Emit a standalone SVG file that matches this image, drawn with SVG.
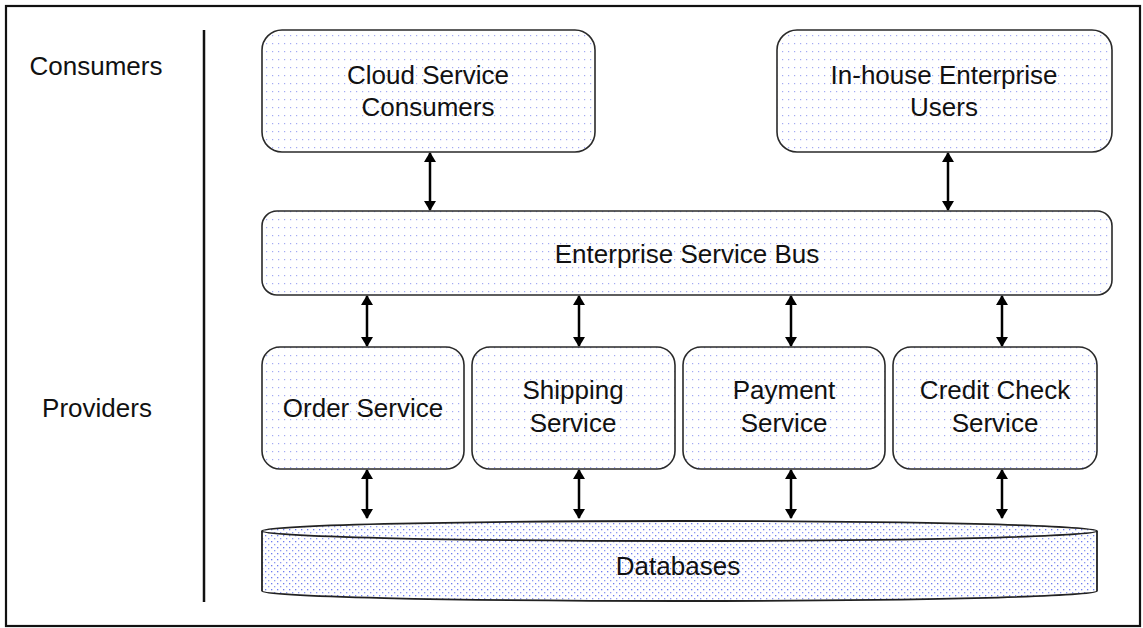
<svg xmlns="http://www.w3.org/2000/svg" width="1143" height="628" viewBox="0 0 1143 628">
<style>
.box{fill:url(#dots);stroke:#2a2a2a;stroke-width:1.6}
.txt{font-family:"Liberation Sans",Arial,sans-serif;font-size:26px;fill:#111;text-anchor:middle}
.conn{stroke:#000;stroke-width:2.5;fill:none;marker-start:url(#ah);marker-end:url(#ah)}
</style>
<defs>
<pattern id="dots" width="6" height="8" patternUnits="userSpaceOnUse">
<rect width="6" height="8" fill="#fff"/>
<rect x="2" y="3" width="1.2" height="1.2" fill="#a3aaf4"/>
</pattern>
<pattern id="dbdots" width="6" height="6" patternUnits="userSpaceOnUse">
<rect width="6" height="6" fill="#fff"/>
<rect x="1" y="1" width="1.3" height="1.3" fill="#6d7cf0"/>
<rect x="4" y="4" width="1.3" height="1.3" fill="#8d99f2"/>
</pattern>
<marker id="ah" viewBox="0 0 10 12" refX="9" refY="6" markerWidth="10" markerHeight="12" markerUnits="userSpaceOnUse" orient="auto-start-reverse">
<path d="M0,0 L10,6 L0,12 Z" fill="#000"/>
</marker>
</defs>
<rect x="6" y="6" width="1134" height="620" fill="#fff" stroke="#111" stroke-width="2.2"/>
<line x1="204" y1="30" x2="204" y2="602" stroke="#111" stroke-width="2.5"/>
<g id="label-consumers"><text class="txt" x="96" y="75">Consumers</text></g>
<g id="label-providers"><text class="txt" x="97" y="417">Providers</text></g>

<g id="connectors">
<line class="conn" x1="430" y1="153" x2="430" y2="210"/>
<line class="conn" x1="948" y1="153" x2="948" y2="210"/>
<line class="conn" x1="367" y1="296" x2="367" y2="346"/>
<line class="conn" x1="579" y1="296" x2="579" y2="346"/>
<line class="conn" x1="791" y1="296" x2="791" y2="346"/>
<line class="conn" x1="1002" y1="296" x2="1002" y2="346"/>
<line class="conn" x1="367" y1="470" x2="367" y2="518"/>
<line class="conn" x1="579" y1="470" x2="579" y2="518"/>
<line class="conn" x1="791" y1="470" x2="791" y2="518"/>
<line class="conn" x1="1002" y1="470" x2="1002" y2="518"/>
</g>

<g id="cloud-consumers">
<rect class="box" x="262" y="30" width="333" height="122" rx="20"/>
<text class="txt" x="428" y="84">Cloud Service</text>
<text class="txt" x="428" y="116">Consumers</text>
</g>
<g id="inhouse-users">
<rect class="box" x="777" y="30" width="335" height="122" rx="20"/>
<text class="txt" x="944" y="84">In-house Enterprise</text>
<text class="txt" x="944" y="116">Users</text>
</g>
<g id="esb">
<rect class="box" x="262" y="211" width="850" height="84" rx="15"/>
<text class="txt" x="687" y="263">Enterprise Service Bus</text>
</g>
<g id="order-service">
<rect class="box" x="262" y="347" width="202" height="122" rx="18"/>
<text class="txt" x="363" y="417">Order Service</text>
</g>
<g id="shipping-service">
<rect class="box" x="472" y="347" width="203" height="122" rx="18"/>
<text class="txt" x="573" y="399">Shipping</text>
<text class="txt" x="573" y="432">Service</text>
</g>
<g id="payment-service">
<rect class="box" x="683" y="347" width="202" height="122" rx="18"/>
<text class="txt" x="784" y="399">Payment</text>
<text class="txt" x="784" y="432">Service</text>
</g>
<g id="credit-check-service">
<rect class="box" x="893" y="347" width="204" height="122" rx="18"/>
<text class="txt" x="995" y="399">Credit Check</text>
<text class="txt" x="995" y="432">Service</text>
</g>
<g id="databases">
<path d="M262,531 L262,591 A417.5,10 0 0 0 1097,591 L1097,531 A417.5,10 0 0 0 262,531 Z" fill="url(#dbdots)" stroke="#222" stroke-width="1.8"/>
<path d="M262,531 A417.5,10 0 0 0 1097,531" fill="none" stroke="#222" stroke-width="1.8"/>
<text class="txt" x="678" y="575">Databases</text>
</g>
</svg>
